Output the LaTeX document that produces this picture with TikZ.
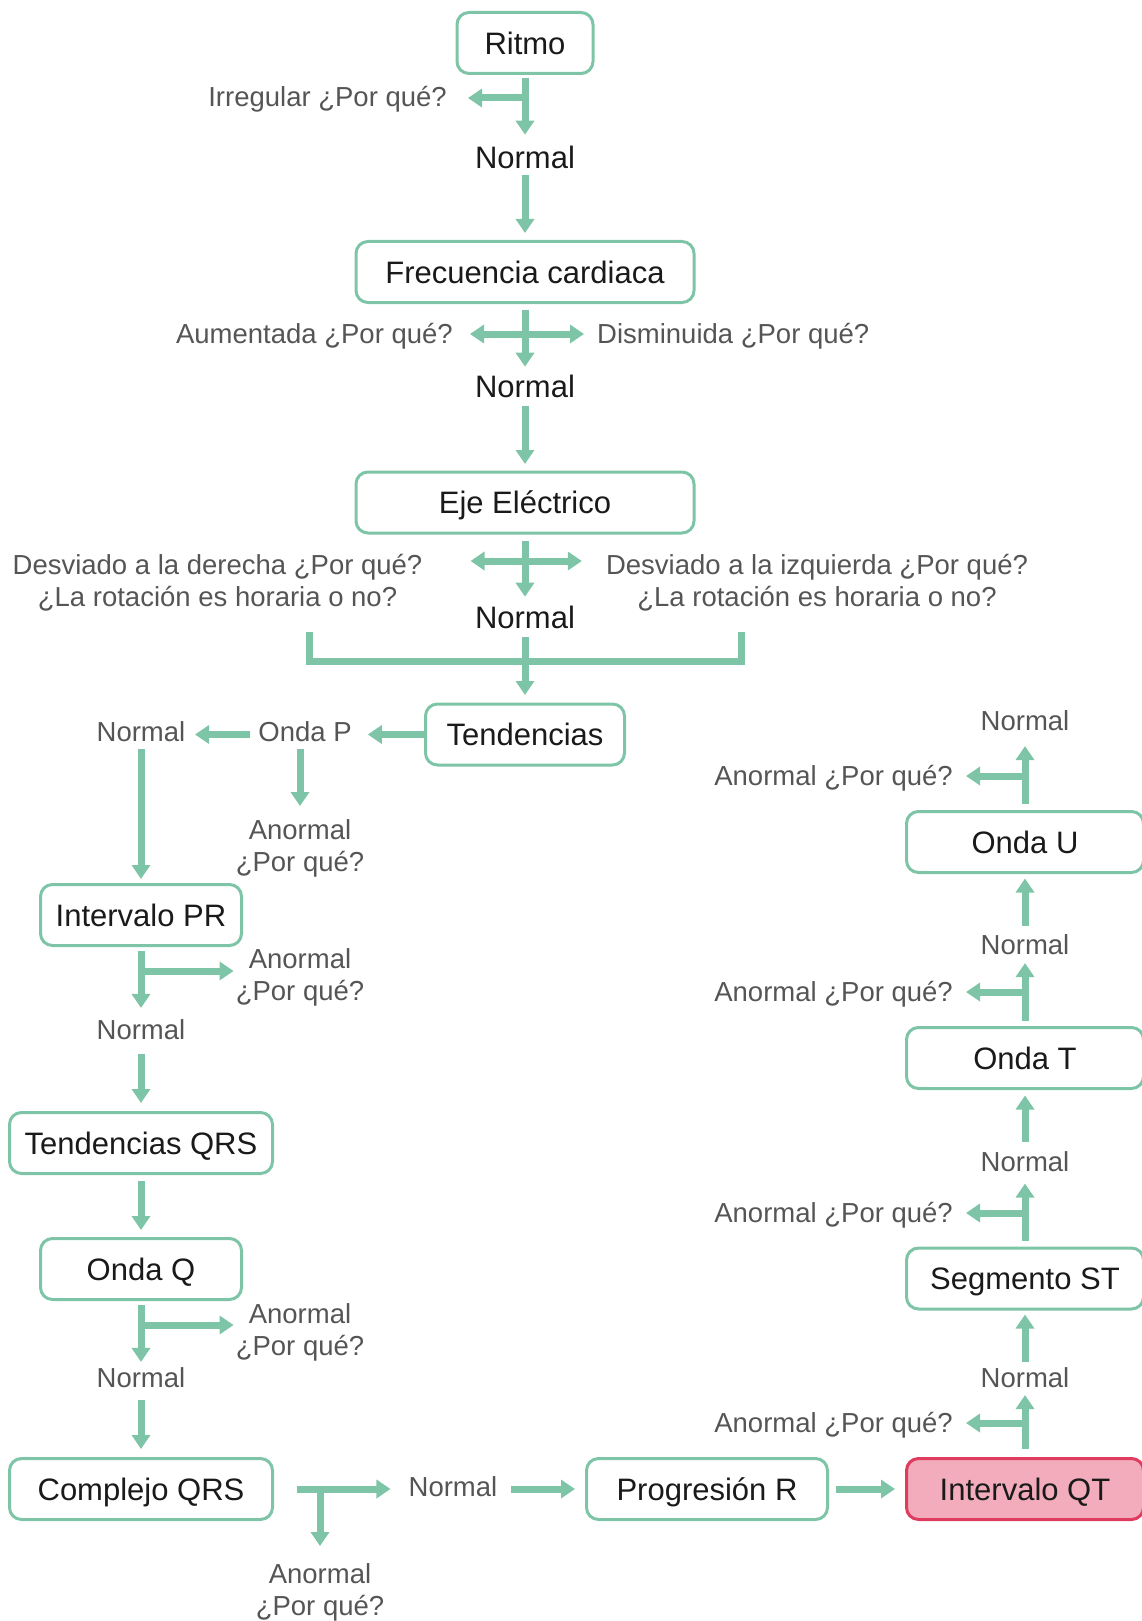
\documentclass[tikz,border=0pt]{standalone}
\usepackage{fontspec}
\setmainfont{Liberation Sans}
\usetikzlibrary{arrows.meta}
\definecolor{grn}{RGB}{126,197,167}
\definecolor{pinkf}{RGB}{242,172,188}
\definecolor{pinkd}{RGB}{224,60,95}
\definecolor{txtdark}{RGB}{26,26,26}
\definecolor{txtgrey}{RGB}{85,85,85}
\newcommand\fsBox{\fontsize{31}{37}\selectfont}
\newcommand\fsLbl{\fontsize{27.5}{32.5}\selectfont}
\begin{document}
\begin{tikzpicture}[x=1pt,y=-1pt,
 box/.style={draw=grn, line width=3pt, rounded corners=12pt, fill=white, minimum height=61pt, inner sep=0pt, font=\fsBox, text=txtdark, text height=22.2pt, text depth=0pt},
 pinkbox/.style={draw=pinkd, fill=pinkf},
 nrm/.style={font=\fsBox, text=txtdark, inner sep=0pt, text height=22.2pt, text depth=0pt},
 lbl/.style={font=\fsLbl, text=txtgrey, inner sep=0pt, text height=19.7pt, text depth=0pt},
 ml/.style={font=\fsLbl, text=txtgrey, inner sep=0pt, align=center, anchor=north},
 arr/.style={draw=grn, line width=7pt, -{Triangle[length=14pt,width=18pt]}},
 ln/.style={draw=grn, line width=7pt},
]
\useasboundingbox (0,0) rectangle (1141,1621);

% nodes
\node[box, minimum width=136pt] (ritmo) at (525,43) {Ritmo};
\node[lbl, anchor=east] (irr) at (447,97) {Irregular ¿Por qué?};
\node[nrm] (n1) at (525,157) {Normal};
\node[box, minimum width=338pt] (frec) at (525,272) {Frecuencia cardiaca};
\node[lbl, anchor=east] (aum) at (453,334) {Aumentada ¿Por qué?};
\node[lbl, anchor=west] (dism) at (597,334) {Disminuida ¿Por qué?};
\node[nrm] (n2) at (525,386) {Normal};
\node[box, minimum width=338pt] (eje) at (525,502.5) {Eje Eléctrico};
\node[ml] (desvd) at (217.5,554) {Desviado a la derecha ¿Por qué?\\¿La rotación es horaria o no?};
\node[ml] (desvi) at (817,554) {Desviado a la izquierda ¿Por qué?\\¿La rotación es horaria o no?};
\node[nrm] (n3) at (525,617) {Normal};
\node[box, minimum width=199pt] (tend) at (525,734.5) {Tendencias};
\node[lbl] (ondap) at (305,732) {Onda P};
\node[lbl] (np) at (141,732) {Normal};
\node[ml] (anp) at (300,819) {Anormal\\¿Por qué?};
\node[box, minimum width=201pt] (pr) at (141,915) {Intervalo PR};
\node[ml] (an4) at (300,948) {Anormal\\¿Por qué?};
\node[lbl] (n4) at (141,1030) {Normal};
\node[box, minimum width=263pt] (tqrs) at (141,1143) {Tendencias QRS};
\node[box, minimum width=201pt] (ondaq) at (141,1269) {Onda Q};
\node[ml] (an5) at (300,1303) {Anormal\\¿Por qué?};
\node[lbl] (n5) at (141,1378) {Normal};
\node[box, minimum width=263pt] (cqrs) at (141,1489) {Complejo QRS};
\node[lbl] (n6) at (453,1487) {Normal};
\node[ml] (an6) at (320,1563) {Anormal\\¿Por qué?};
\node[box, minimum width=241pt] (progr) at (707,1489) {Progresión R};
\node[box, pinkbox, minimum width=237pt] (qt) at (1025,1489) {Intervalo QT};
\node[lbl] (n7) at (1025,1378) {Normal};
\node[lbl, anchor=east] (an7) at (953,1423) {Anormal ¿Por qué?};
\node[box, minimum width=237pt] (st) at (1025,1278.5) {Segmento ST};
\node[lbl] (n8) at (1025,1162) {Normal};
\node[lbl, anchor=east] (an8) at (953,1213) {Anormal ¿Por qué?};
\node[box, minimum width=237pt] (ondat) at (1025,1058) {Onda T};
\node[lbl] (n9) at (1025,945) {Normal};
\node[lbl, anchor=east] (an9) at (953,992) {Anormal ¿Por qué?};
\node[box, minimum width=237pt] (ondau) at (1025,842) {Onda U};
\node[lbl] (n10) at (1025,721) {Normal};
\node[lbl, anchor=east] (an10) at (953,776) {Anormal ¿Por qué?};

% junctions
\coordinate (j1) at (525,98);
\coordinate (j2) at (525,334);
\coordinate (j3) at (525,561);
\coordinate (bl) at (309,632);
\coordinate (br) at (741,632);
\coordinate (bm) at (525,661);
\coordinate (j4) at (141,971);
\coordinate (j5) at (141,1325);
\coordinate (j6) at (320,1489);
\coordinate (j7) at (1025,1423);
\coordinate (j8) at (1025,1213);
\coordinate (j9) at (1025,992);
\coordinate (j10) at (1025,776);

% main trunk
\draw[arr, shorten <=3pt, shorten >=11pt] (ritmo.south) -- (n1.north);
\draw[arr, shorten >=21pt] (j1) -- (j1 -| irr.east);
\draw[arr, shorten <=7pt, shorten >=7pt] (n1.south) -- (frec.north);
\draw[arr, shorten <=6pt, shorten >=8pt] (frec.south) -- (n2.north);
\draw[arr, shorten >=17pt] (j2) -- (j2 -| aum.east);
\draw[arr, shorten >=13pt] (j2) -- (j2 -| dism.west);
\draw[arr, shorten <=9pt, shorten >=6.5pt] (n2.south) -- (eje.north);
\draw[arr, shorten <=6.5pt, shorten >=9pt] (eje.south) -- (n3.north);
\draw[arr, shorten >=48pt] (j3) -- (j3 -| desvd.east);
\draw[arr, shorten >=24pt] (j3) -- (j3 -| desvi.west);
\draw[ln] (bl) |- (bm) -| (br);
\draw[arr, shorten <=9pt, shorten >=7.5pt] (n3.south) -- (tend.north);

% left column
\draw[arr, shorten >=16pt] (tend.west) -- (tend.west -| ondap.east);
\draw[arr, shorten <=8pt, shorten >=9.5pt] (tend.west -| ondap.west) -- (tend.west -| np.east);
\draw[arr, shorten <=7pt, shorten >=13pt] (anp.north |- ondap.south) -- (anp.north);
\draw[arr, shorten <=7pt, shorten >=4pt] (np.south) -- (pr.north);
\draw[arr, shorten <=4pt, shorten >=12pt] (pr.south) -- (n4.north);
\draw[arr, shorten >=2pt] (j4) -- (j4 -| an4.west);
\draw[arr, shorten <=14pt, shorten >=8pt] (n4.south) -- (tqrs.north);
\draw[arr, shorten <=6pt, shorten >=7pt] (tqrs.south) -- (ondaq.north);
\draw[arr, shorten <=4pt, shorten >=6pt] (ondaq.south) -- (n5.north);
\draw[arr, shorten >=2pt] (j5) -- (j5 -| an5.west);
\draw[arr, shorten <=12pt, shorten >=8pt] (n5.south) -- (cqrs.north);

% bottom row
\draw[arr, shorten <=23pt, shorten >=18pt] (cqrs.east) -- (cqrs.east -| n6.west);
\draw[arr, shorten >=17pt] (j6) -- (an6.north);
\draw[arr, shorten <=13pt, shorten >=10pt] (progr.west -| n6.east) -- (progr.west);
\draw[arr, shorten <=7pt, shorten >=10pt] (progr.east) -- (qt.west);

% right column
\draw[arr, shorten <=8pt, shorten >=7pt] (qt.north) -- (n7.south);
\draw[arr, shorten >=13pt] (j7) -- (j7 -| an7.east);
\draw[arr, shorten <=6pt, shorten >=4pt] (n7.north) -- (st.south);
\draw[arr, shorten <=5.5pt, shorten >=11.5pt] (st.north) -- (n8.south);
\draw[arr, shorten >=13pt] (j8) -- (j8 -| an8.east);
\draw[arr, shorten <=10pt, shorten >=5.5pt] (n8.north) -- (ondat.south);
\draw[arr, shorten <=5pt, shorten >=8pt] (ondat.north) -- (n9.south);
\draw[arr, shorten >=13pt] (j9) -- (j9 -| an9.east);
\draw[arr, shorten <=9pt, shorten >=4.5pt] (n9.north) -- (ondau.south);
\draw[arr, shorten <=6pt, shorten >=15pt] (ondau.north) -- (n10.south);
\draw[arr, shorten >=13pt] (j10) -- (j10 -| an10.east);
\end{tikzpicture}
\end{document}
